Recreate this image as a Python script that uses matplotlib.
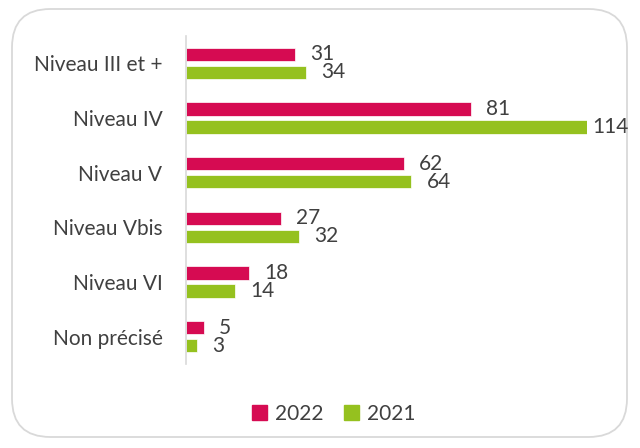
import numpy as np
import matplotlib.pyplot as plt
from matplotlib.patches import FancyBboxPatch, Patch

plt.rcParams['font.family'] = ['Lato', 'DejaVu Sans']

categories = ['Niveau III et +', 'Niveau IV', 'Niveau V', 'Niveau Vbis', 'Niveau VI', 'Non précisé']
val_2022 = [31, 81, 62, 27, 18, 5]
val_2021 = [34, 114, 64, 32, 14, 3]
series_names = ['2022', '2021']

col_2022 = '#D60B52'
col_2021 = '#95C11F'
txt_col = '#404040'
fs = 15

fig = plt.figure(figsize=(6.4, 4.48), dpi=100)

# rounded frame round the whole chart, kept under the axes
frame = FancyBboxPatch((12/640, 11/448), 615/640, 428/448,
                       boxstyle='round,pad=0,rounding_size=0.06',
                       transform=fig.transFigure, facecolor='white',
                       edgecolor='#D9D9D9', linewidth=1.3, mutation_aspect=640/448,
                       zorder=-5)
fig.patches.append(frame)

ax = fig.add_axes([186/640, 1 - 364/448, 401/640, 328/448])
ax.set_facecolor('none')

y = np.arange(len(categories))
h = 0.24
off = 0.165
b1 = ax.barh(y - off, val_2022, height=h, color=col_2022, edgecolor='white', linewidth=0.5)
b2 = ax.barh(y + off, val_2021, height=h, color=col_2021, edgecolor='white', linewidth=0.5)

ax.set_xlim(0, 114)
ax.set_ylim(len(categories) - 0.5, -0.5)
ax.set_yticks(y)
ax.set_yticklabels(categories, fontsize=fs, color=txt_col)
ax.tick_params(axis='y', length=0, pad=17)
ax.set_xticks([])
for s in ['top', 'right', 'bottom']:
    ax.spines[s].set_visible(False)
ax.spines['left'].set_color('#D9D9D9')
ax.spines['left'].set_linewidth(1.2)

xmax = max(max(val_2022), max(val_2021))
for bars, vals in [(b1, val_2022), (b2, val_2021)]:
    for bar, v in zip(bars, vals):
        pad = 4 if v == xmax else 11
        ax.annotate(str(v), (bar.get_width(), bar.get_y() + bar.get_height() / 2),
                    xytext=(pad, 0), textcoords='offset points',
                    va='center', ha='left', fontsize=fs, color=txt_col,
                    annotation_clip=False)

handles = [Patch(color=col_2022), Patch(color=col_2021)]
fig.legend(handles, series_names, loc='center', bbox_to_anchor=(334/640, 1 - 414/448),
           ncol=2, frameon=False, fontsize=fs, labelcolor=txt_col,
           handlelength=0.7, handleheight=0.7, handletextpad=0.4, columnspacing=1.0)

fig.savefig('out.png', dpi=100)
